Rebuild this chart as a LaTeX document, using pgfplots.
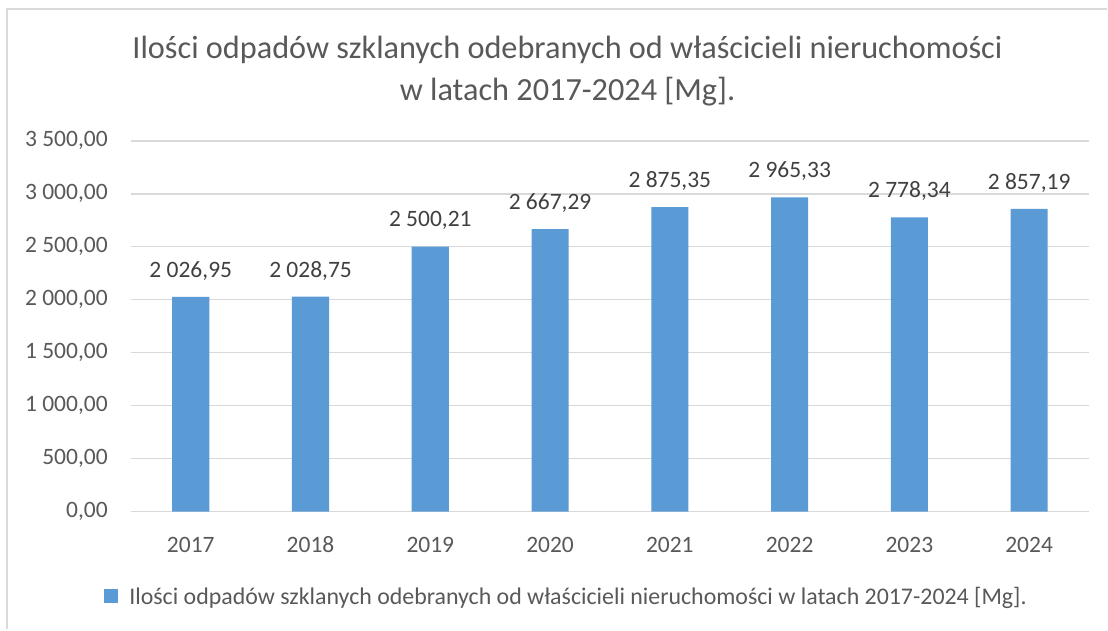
\documentclass[border=0pt]{standalone}
\usepackage{pgfplots}
\pgfplotsset{compat=1.18}
\usepackage{fontspec}
\setmainfont{Carlito}
\definecolor{barblue}{HTML}{5B9BD5}
\definecolor{gridgray}{HTML}{D9D9D9}
\definecolor{txtgray}{HTML}{595959}
\definecolor{lblgray}{HTML}{404040}
\pgfkeys{/pgf/number format/.cd, assume math mode=true, fixed, fixed zerofill, precision=2, use comma, 1000 sep={\ }}
\begin{document}
\begin{tikzpicture}[x=1pt,y=1pt]
\fill[white] (0,0) rectangle (1108,630);
\draw[gridgray, line width=2pt] (7,0) -- (7,621) -- (1108,621);
\node[txtgray, align=center, font=\fontsize{32.3}{42}\selectfont] at (568,559)
  {Ilości odpadów szklanych odebranych od właścicieli nieruchomości\\w latach 2017-2024 [Mg].};
\begin{axis}[
  at={(131pt,118pt)}, anchor=south west,
  width=959pt, height=371pt, scale only axis,
  xmin=-0.5, xmax=7.5, ymin=0, ymax=3500,
  xtick=data,
  xticklabels={2017,2018,2019,2020,2021,2022,2023,2024},
  ytick distance=500,
  ymajorgrids, major grid style={gridgray, line width=1.4pt},
  axis x line*=bottom, axis y line*=left,
  x axis line style={gridgray, line width=1.6pt, -},
  y axis line style={draw=none},
  major tick length=0pt,
  tick label style={txtgray, font=\fontsize{23.5}{28}\selectfont},
  yticklabel style={anchor=east, inner sep=0pt, xshift=-23pt},
  xticklabel style={anchor=center, inner sep=0pt, yshift=-33pt},
  yticklabel={\pgfmathprintnumber{\tick}},
  legend style={draw=none, fill=none, at={(0.4547,-0.229)}, anchor=center,
    font=\fontsize{23.9}{28}\selectfont, text=txtgray, column sep=9pt},
  legend image code/.code={\fill[barblue] (0pt,-7pt) rectangle (14pt,7pt);},
  clip=false
]
\addplot[ybar, bar width=0.31, fill=barblue, draw=none,
  point meta=y,
  nodes near coords={\pgfmathprintnumber{\pgfplotspointmeta}},
  nodes near coords style={lblgray, font=\fontsize{23.5}{28}\selectfont, anchor=center, inner sep=0pt, yshift=26pt}]
coordinates {
  (0,2026.95) (1,2028.75) (2,2500.21) (3,2667.29)
  (4,2875.35) (5,2965.33) (6,2778.34) (7,2857.19)
};
\addlegendentry{Ilości odpadów szklanych odebranych od właścicieli nieruchomości w latach 2017-2024 [Mg].}
\end{axis}
\end{tikzpicture}
\end{document}
